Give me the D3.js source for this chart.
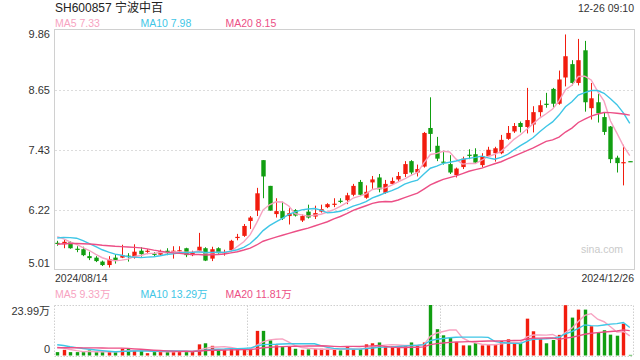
<!DOCTYPE html>
<html>
<head>
<meta charset="utf-8">
<script src="https://cdn.jsdelivr.net/npm/d3@7"></script>
<style>
body { margin: 0; background: #fff; }
svg { display: block; font-family: "Liberation Sans", Arial, "Noto Sans CJK SC", sans-serif; }
</style>
</head>
<body>
<div id="chart"></div>
<script>
// ---- data ----
const title = "SH600857 宁波中百";
const timeLabel = "12-26 09:10";
const dateLabels = ["2024/08/14", "2024/12/26"];

const opens = [5.56,5.53,5.57,5.44,5.43,5.29,5.26,5.18,5.11,5.26,
  5.26,5.30,5.26,5.40,5.38,5.34,5.32,5.40,5.38,5.39,
  5.45,5.31,5.40,5.45,5.24,5.45,5.35,5.41,5.66,5.70,
  6.00,6.21,7.23,6.71,6.14,6.20,6.10,6.22,6.01,6.19,
  6.09,6.19,6.28,6.34,6.41,6.42,6.53,6.79,6.47,6.78,
  6.88,6.57,6.75,6.84,6.95,7.21,6.98,7.10,7.88,7.52,
  7.20,7.15,6.93,7.09,7.34,7.35,7.13,7.31,7.37,7.37,
  7.66,7.81,7.98,7.90,7.95,8.20,8.37,8.67,8.37,8.90,
  9.17,8.79,9.45,8.28,8.40,8.10,7.91,7.28,7.18,7.21];
const highs = [5.60,5.62,5.59,5.49,5.48,5.38,5.29,5.20,5.29,5.33,
  5.52,5.35,5.53,5.47,5.43,5.37,5.42,5.45,5.49,5.49,
  5.46,5.40,5.76,5.47,5.48,5.47,5.42,5.62,5.74,5.94,
  6.10,6.67,7.23,6.71,6.46,6.39,6.26,6.24,6.13,6.33,
  6.31,6.33,6.36,6.46,6.46,6.57,6.75,6.83,6.72,6.91,
  6.95,6.83,6.88,6.99,7.21,7.23,7.14,7.80,8.50,7.70,
  7.42,7.33,7.08,7.30,7.45,7.47,7.37,7.50,7.50,7.74,
  7.92,7.98,8.01,8.69,8.32,8.44,8.59,8.69,9.04,9.77,
  9.25,9.68,9.64,8.79,8.57,8.19,7.92,7.32,7.54,7.21];
const lows = [5.50,5.45,5.44,5.37,5.29,5.21,5.17,5.09,5.06,5.14,
  5.25,5.18,5.24,5.28,5.33,5.28,5.30,5.31,5.24,5.36,
  5.27,5.29,5.37,5.19,5.19,5.34,5.30,5.39,5.61,5.68,
  5.84,6.10,6.46,6.21,6.07,6.02,5.93,6.09,5.98,6.05,
  6.04,6.17,6.26,6.28,6.36,6.34,6.50,6.51,6.45,6.65,
  6.58,6.55,6.73,6.81,6.89,6.94,6.90,7.08,7.40,7.21,
  7.14,6.95,6.88,7.05,7.25,7.16,7.09,7.29,7.20,7.35,
  7.64,7.78,7.79,7.77,7.79,8.11,8.29,8.29,8.35,8.72,
  8.74,8.74,8.21,8.05,7.99,7.74,7.17,6.98,6.72,7.20];
const closes = [5.55,5.58,5.45,5.43,5.31,5.25,5.19,5.11,5.23,5.21,
  5.31,5.29,5.38,5.33,5.40,5.33,5.39,5.35,5.40,5.41,
  5.31,5.37,5.48,5.20,5.43,5.35,5.37,5.60,5.68,5.90,
  6.07,6.56,6.90,6.21,6.20,6.05,6.16,6.11,6.10,6.07,
  6.16,6.24,6.34,6.35,6.40,6.52,6.71,6.53,6.59,6.84,
  6.64,6.75,6.81,6.91,7.15,6.98,7.05,7.78,7.76,7.26,
  7.19,6.98,7.06,7.26,7.33,7.18,7.31,7.44,7.47,7.64,
  7.78,7.92,7.90,8.04,8.20,8.34,8.36,8.37,8.86,9.33,
  8.79,9.25,8.40,8.48,8.18,7.80,7.25,7.17,7.19,7.20];
// volume in 万
const volumes = [1.6,2.7,1.6,1.6,1.6,2.4,1.6,1.6,1.6,1.6,
  3.2,3.5,2.4,2.1,1.1,1.6,2.1,1.9,1.9,1.9,
  1.9,1.9,5.3,5.8,4.6,2.7,2.7,3.2,2.7,3.2,
  3.2,11.7,11.7,7.2,4.8,4.0,4.3,3.2,2.7,2.9,
  3.0,3.2,3.2,2.7,2.4,4.0,3.0,3.0,5.3,5.8,
  6.2,4.3,4.3,4.3,4.6,6.2,4.6,6.2,23.99,12.5,
  9.6,8.3,6.4,4.8,4.8,5.9,4.8,5.1,5.0,6.9,
  7.7,6.2,5.9,17.5,11.5,7.8,5.8,7.4,9.8,23.9,
  18.0,21.8,21.8,13.9,10.7,12.0,9.9,9.4,15.1,0.3];

// sessions before 08/14 (only seen through the MA lines)
const priorCloses = [5.35,5.38,5.42,5.40,5.36,5.38,5.42,5.45,5.43,5.44,
  5.45,5.50,5.55,5.80,5.85,5.80,5.75,5.70,5.62];
const priorVolumes = [2.2,2.5,2.1,2.4,2.3,2.0,2.6,2.4,2.2,2.3,
  6.5,7.0,6.0,6.0,5.5,5.2,4.8,4.4,4.0];

const priceTicks = [5.01, 6.22, 7.43, 8.65, 9.86];
const volumeTicks = [0, 23.99];
const volumeTickLabels = ["0", "23.99万"];
const maPeriods = [5, 10, 20];
const priceMaLast = ["7.33", "7.98", "8.15"];
const volumeMaLast = ["9.33万", "13.29万", "11.81万"];

// ---- layout ----
const red = "#f21c0e", green = "#119e11";
const maColors = ["#f7a3c1", "#3fc6e6", "#ec4f86"];
const left = 54, right = 633;

const svg = d3.select("#chart").append("svg")
    .attr("width", 640)
    .attr("height", 360);

const x = d3.scaleBand()
    .domain(d3.range(closes.length))
    .range([left, right]);
const cx = i => x(i) + x.bandwidth() / 2;

const y = d3.scaleLinear().domain([5.01, 9.86]).range([270, 30]);
const vy = d3.scaleLinear().domain([0, 23.99]).range([355.5, 305]);

function movingAverage(prior, values, n) {
    let all = prior.concat(values);
    return values.map(function(v, i) {
        let end = prior.length + i;
        return d3.mean(all.slice(end - n + 1, end + 1));
    });
}
const isUp = i => closes[i] > opens[i];

// header
svg.append("text").attr("x", 55).attr("y", 12)
    .attr("font-size", 12).attr("fill", "#222").text(title);
svg.append("text").attr("x", 634).attr("y", 12).attr("text-anchor", "end")
    .attr("font-size", 10.5).attr("fill", "#333").text(timeLabel);

const legendX = [55, 140.5, 225.5];
maPeriods.forEach(function(p, k) {
    svg.append("text").attr("x", legendX[k]).attr("y", 27)
        .attr("font-size", 10.5).attr("fill", maColors[k])
        .text("MA" + p + " " + priceMaLast[k]);
    svg.append("text").attr("x", legendX[k]).attr("y", 298)
        .attr("font-size", 10.5).attr("fill", maColors[k])
        .text("MA" + p + " " + volumeMaLast[k]);
});

// price panel frame + grid
svg.selectAll(".pgrid")
    .data(priceTicks.slice(1, -1))
    .enter().append("line")
    .attr("x1", left + 1).attr("x2", right)
    .attr("y1", d => Math.round(y(d)) + 0.5).attr("y2", d => Math.round(y(d)) + 0.5)
    .attr("stroke", "#dcdcdc").attr("stroke-dasharray", "2,2");

svg.append("rect")
    .attr("x", left + 0.5).attr("y", 29.5)
    .attr("width", right - left + 1).attr("height", 240)
    .attr("fill", "none").attr("stroke", "#d0d0d0");

svg.selectAll(".plabel")
    .data(priceTicks)
    .enter().append("text")
    .attr("x", 50)
    .attr("y", d => y(d))
    .attr("dy", (d, i) => i == 0 ? -3.5 : (i == priceTicks.length - 1 ? 8 : 4))
    .attr("text-anchor", "end").attr("font-size", 11).attr("fill", "#333")
    .text(d => d.toFixed(2));

svg.append("text").attr("x", 623).attr("y", 253).attr("text-anchor", "end")
    .attr("font-size", 10.5).attr("fill", "#cacaca").text("sina.com");

// candles
const candles = svg.append("g");
candles.selectAll(".wick")
    .data(closes)
    .enter().append("line")
    .attr("x1", (d, i) => Math.round(cx(i)) + 0.5)
    .attr("x2", (d, i) => Math.round(cx(i)) + 0.5)
    .attr("y1", (d, i) => y(highs[i]))
    .attr("y2", (d, i) => y(lows[i]))
    .attr("stroke", (d, i) => isUp(i) ? red : green);

const bw = 4.4;
candles.selectAll(".body")
    .data(closes)
    .enter().append("rect")
    .attr("x", (d, i) => Math.round(cx(i)) + 0.5 - bw / 2)
    .attr("y", (d, i) => y(Math.max(opens[i], closes[i])))
    .attr("width", bw)
    .attr("height", (d, i) => Math.max(1.2, Math.abs(y(opens[i]) - y(closes[i]))))
    .attr("fill", (d, i) => isUp(i) ? red : green);

// price MA lines
maPeriods.forEach(function(p, k) {
    let ma = movingAverage(priorCloses, closes, p);
    svg.append("path")
        .datum(ma)
        .attr("fill", "none")
        .attr("stroke", maColors[k])
        .attr("stroke-width", 1.4)
        .attr("d", d3.line().x((d, i) => cx(i)).y(d => y(d)));
});

// x labels
svg.append("text").attr("x", 55).attr("y", 282)
    .attr("font-size", 10.5).attr("fill", "#333").text(dateLabels[0]);
svg.append("text").attr("x", 634).attr("y", 282).attr("text-anchor", "end")
    .attr("font-size", 10.5).attr("fill", "#333").text(dateLabels[1]);

// volume panel frame (dotted)
const vTop = Math.round(vy(23.99)) + 0.5, vBottom = 356.5;
const dotted = [
    [left + 0.5, vTop, right + 0.5, vTop],
    [left + 0.5, vBottom, right + 0.5, vBottom],
    [left + 0.5, vTop, left + 0.5, vBottom],
    [right + 0.5, vTop, right + 0.5, vBottom],
    [Math.round(x(30)) + 0.5, vTop, Math.round(x(30)) + 0.5, vBottom],
    [Math.round(x(60)) + 0.5, vTop, Math.round(x(60)) + 0.5, vBottom]
];
svg.selectAll(".vgrid")
    .data(dotted)
    .enter().append("line")
    .attr("x1", d => d[0]).attr("y1", d => d[1])
    .attr("x2", d => d[2]).attr("y2", d => d[3])
    .attr("stroke", "#cfcfcf").attr("stroke-dasharray", "1.5,1.5");

svg.selectAll(".vlabel")
    .data(volumeTicks)
    .enter().append("text")
    .attr("x", 50)
    .attr("y", d => vy(d))
    .attr("dy", (d, i) => i == 0 ? -3 : 10)
    .attr("text-anchor", "end").attr("font-size", 11).attr("fill", "#333")
    .text((d, i) => volumeTickLabels[i]);

// volume bars
const vbw = 3.4;
svg.append("g").selectAll("rect")
    .data(volumes)
    .enter().append("rect")
    .attr("x", (d, i) => Math.round(cx(i)) + 0.5 - vbw / 2)
    .attr("y", d => vy(d))
    .attr("width", vbw)
    .attr("height", d => vy(0) - vy(d))
    .attr("fill", (d, i) => isUp(i) ? red : green);

// volume MA lines
maPeriods.forEach(function(p, k) {
    let ma = movingAverage(priorVolumes, volumes, p);
    svg.append("path")
        .datum(ma)
        .attr("fill", "none")
        .attr("stroke", maColors[k])
        .attr("stroke-width", 1.4)
        .attr("d", d3.line().x((d, i) => cx(i)).y(d => vy(d)));
});
</script>
</body>
</html>
